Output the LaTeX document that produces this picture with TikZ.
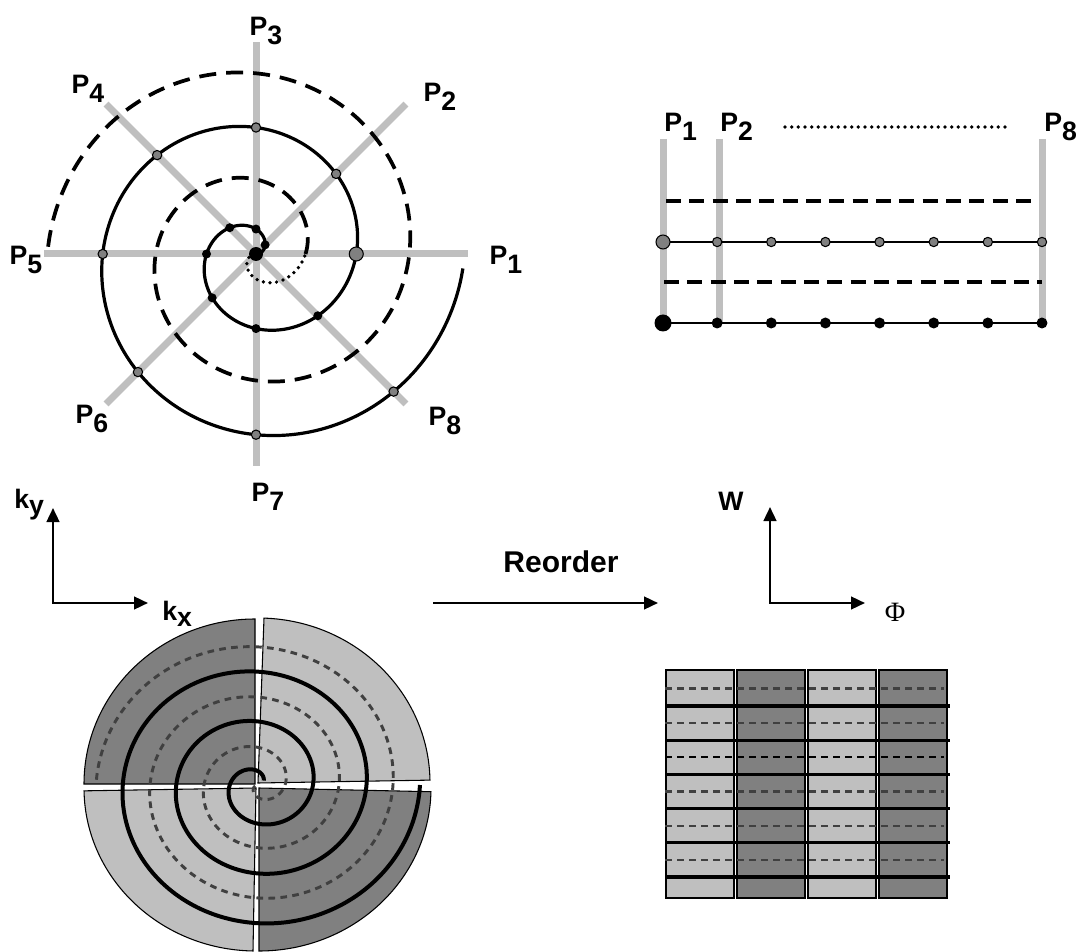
\documentclass[tikz,border=0pt]{standalone}
\usepackage{fontspec}
\setmainfont{Liberation Sans}
\newfontfamily\phifont{Liberation Serif}
\usetikzlibrary{arrows.meta,calc}
\newcommand{\plabel}[1]{P\raisebox{-6.5pt}{#1}}
\tikzset{
  spoke/.style={line width=5.25pt,black!25},
  sp/.style={line width=2.4pt},
  spdash/.style={line width=2.8pt,dash pattern=on 12.75pt off 7.5pt},
  rowdash/.style={line width=3pt,dash pattern=on 11.25pt off 6.25pt},
  spdot/.style={line width=2.8pt,dash pattern=on 0pt off 5pt,line cap=round},
  bdot/.style={circle,fill=black,inner sep=0pt,minimum size=6.75pt},
  bbig/.style={circle,fill=black,inner sep=0pt,minimum size=10.5pt},
  gdot/.style={circle,draw=black,fill=black!50,line width=0.8pt,inner sep=0pt,minimum size=7pt},
  gbig/.style={circle,draw=black,fill=black!50,line width=0.8pt,inner sep=0pt,minimum size=10.5pt},
  rbdot/.style={circle,fill=black,inner sep=0pt,minimum size=8.25pt},
  rbbig/.style={circle,fill=black,inner sep=0pt,minimum size=12.75pt},
  plab/.style={font=\bfseries\fontsize{20}{22}\selectfont,inner sep=0pt},
  axarr/.style={-{Triangle[length=10.5pt,width=9.5pt]},line width=1.8pt},
  axboth/.style={{Triangle[length=10.5pt,width=9.5pt]}-{Triangle[length=10.5pt,width=9.5pt]},line width=1.8pt},
  darksec/.style={draw=black,line width=0.8pt,fill=black!50},
  lightsec/.style={draw=black,line width=0.8pt,fill=black!25},
  dsp/.style={line width=3pt},
  ddash/.style={line width=2.2pt,black!75,dash pattern=on 5pt off 4pt},
  gline/.style={line width=2.5pt},
  gdash/.style={line width=1.8pt,black!75,dash pattern=on 5.5pt off 3.5pt},
}

\begin{document}
\begin{tikzpicture}[x=0.75pt,y=0.75pt,
    declare function={rsp(\t)=1+0.263*\t+0.353*(\t/100)^2;}]
  \useasboundingbox (0,0) rectangle (1078,951);

  % spiral trajectory with eight sampling spokes
  \begin{scope}[shift={(256,697)}]
    \foreach \a in {0,45,...,315} \draw[spoke] (0,0) -- (\a:212);
    \draw[sp] plot[domain=0:716,samples=240,smooth] (\x:{rsp(\x)});
    \draw[spdot] plot[domain=182:360,samples=60,smooth] (\x:{rsp(\x-180)});
    \draw[spdash] plot[domain=360:898,samples=200,smooth] (\x:{rsp(\x-180)});
    \node[bbig] (b0) at (0,0) {};
    \foreach \k in {1,...,7} {
      \node[bdot] (b\k) at ({45*\k}:{rsp(45*\k)}) {};
      \node[gdot] (g\k) at ({360+45*\k}:{rsp(360+45*\k)}) {};
    }
    \node[gbig] (g0) at (0:{rsp(360)}) {};
  \end{scope}
  \node[plab] (p1) at (506,691) {\plabel{1}};
  \node[plab] (p2) at (440,854) {\plabel{2}};
  \node[plab] (p3) at (266,920) {\plabel{3}};
  \node[plab] (p4) at (88,862) {\plabel{4}};
  \node[plab] (p5) at (26,691) {\plabel{5}};
  \node[plab] (p6) at (92,532) {\plabel{6}};
  \node[plab] (p7) at (268,454) {\plabel{7}};
  \node[plab] (p8) at (445,530) {\plabel{8}};

  % the same samples laid out in rows
  \foreach \x in {663,719,1042} \draw[spoke] (\x,812) -- (\x,628);
  \node[plab,anchor=base west] (q1) at (664,819) {\plabel{1}};
  \node[plab,anchor=base west] (q2) at (720,819) {\plabel{2}};
  \node[plab,anchor=base west] (q8) at (1044,819) {\plabel{8}};
  \coordinate (dl) at (785,824); \coordinate (dr) at (1005,824);
  \draw[spdot] (dl) -- (dr);
  \draw[rowdash] (666,750) -- (1033,750);
  \draw[rowdash] (664,669) -- (1042,669);
  \draw[sp,line width=2pt] (663,709) -- (1042,709);
  \draw[sp,line width=2pt] (663,628) -- (1042,628);
  \foreach \k in {2,...,8} {
    \node[gdot] (rg\k) at ({663+54.14*(\k-1)},709) {};
    \node[rbdot] (rb\k) at ({663+54.14*(\k-1)},628) {};
  }
  \node[gbig] (rg1) at (663,709) {};
  \node[rbbig] (rb1) at (663,628) {};

  % k-space axes
  \coordinate (korg) at (53,348);
  \coordinate (kytip) at (53,443);
  \coordinate (kxtip) at (148,348);
  \draw[axboth] (kytip) -- (korg) -- (kxtip);
  \node[plab,anchor=base west] (ky) at (14,443) {k\raisebox{-5pt}{y}};
  \node[plab,anchor=base west] (kx) at (162,331) {k\raisebox{-5pt}{x}};

  % reorder arrow
  \coordinate (rs) at (433,348); \coordinate (re) at (658,348);
  \draw[axarr] (rs) -- (re);
  \node[font=\bfseries\fontsize{22.5}{26}\selectfont,inner sep=0pt,anchor=base] (reord) at (561,379) {Reorder};

  % W / Phi axes
  \coordinate (worg) at (770,348);
  \coordinate (wtip) at (770,444);
  \coordinate (ftip) at (865,348);
  \draw[axboth] (wtip) -- (worg) -- (ftip);
  \node[plab] (wl) at (731,450) {W};
  \node[font=\phifont\fontsize{21}{24}\selectfont,inner sep=0pt] (phil) at (895,339) {Φ};

  % segmented disk
  \draw[darksec] (255,167) -- ++(90:171 and 165) arc[start angle=90,end angle=180,x radius=171,y radius=165] -- cycle;
  \draw[lightsec] (258,168) -- ++(1:172 and 165) arc[start angle=1,end angle=88,x radius=172,y radius=165] -- cycle;
  \draw[lightsec] (256,163) -- ++(181:172 and 163) arc[start angle=181,end angle=269,x radius=172,y radius=163] -- cycle;
  \draw[darksec] (259,163) -- ++(270:172 and 163) arc[start angle=270,end angle=358.7,x radius=172,y radius=163] -- cycle;
  \begin{scope}[shift={(258,166)},yscale=0.93]
    \draw[ddash] plot[domain=200:1260,samples=300,smooth] (\x:{0.15*(\x-180)});
    \draw[dsp] plot[domain=40:1080,samples=300,smooth] (\x:{1.5+0.1486*\x});
  \end{scope}

  % reordered segments
  \foreach \x/\s in {666/lightsec,737/darksec,808/lightsec,879/darksec}
    \draw[\s] (\x,53) rectangle ++(68,228);
  \foreach \i in {0,1,3,4,5}
    \draw[gdash] (665,{262.5-34.3*\i}) -- (944,{262.5-34.3*\i});
  \draw[gdash,black] (665,193.9) -- (944,193.9);
  \foreach \i in {0,...,5}
    \draw[gline] (665,{245-34.2*\i}) -- (950,{245-34.2*\i});
\end{tikzpicture}
\end{document}
